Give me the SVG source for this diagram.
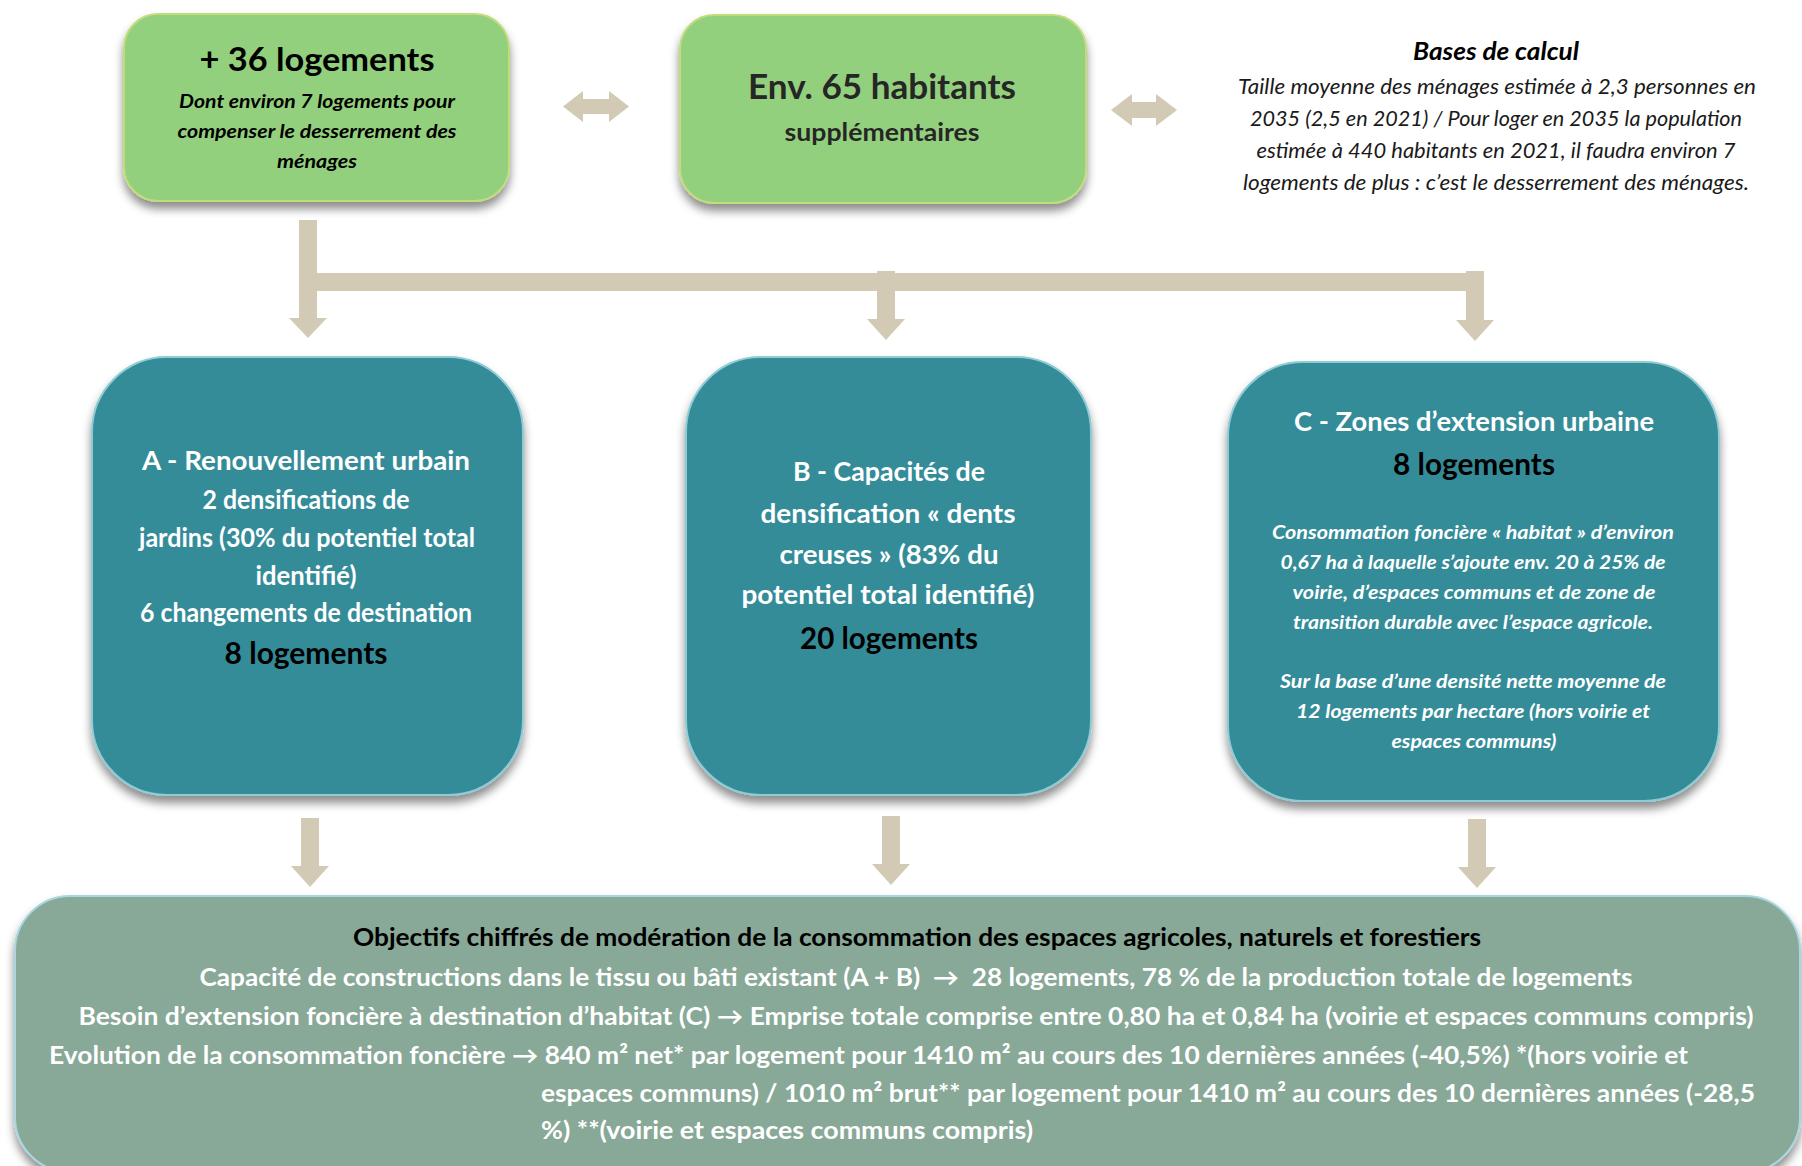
<svg xmlns="http://www.w3.org/2000/svg" width="1802" height="1166" viewBox="0 0 1802 1166">
<defs>
<filter id="sh" x="-10%" y="-10%" width="120%" height="130%">
<feDropShadow dx="0" dy="7" stdDeviation="5" flood-color="#000" flood-opacity="0.45"/>
</filter>
</defs>
<style>
.green{fill:#93d07e;stroke:#c2dc7c;stroke-width:2}
.teal{fill:#348c99;stroke:#8fcbd5;stroke-width:2}
.bottom{fill:#88a898;stroke:#a9d6df;stroke-width:2}
.arr{fill:#d3cab6}
text{font-family:Lato,"Open Sans","Liberation Sans",sans-serif;text-anchor:middle;font-weight:700}
.i{font-style:italic}
.r{font-weight:400;fill:#1a1a1a}
.w{fill:#ffffff}
.k{fill:#000000}
.d{fill:#262626}
.s{text-anchor:start}
.pre{white-space:pre}
</style>
<rect width="1802" height="1166" fill="#ffffff"/>

<g id="connectors">
<polygon class="arr" points="563,106.5 583,91 583,99 609,99 609,91 629,106.5 609,122 609,114 583,114 583,122"/>
<polygon class="arr" points="1111,110 1132,94 1132,102 1156,102 1156,94 1177,110 1156,126 1156,118 1132,118 1132,126"/>
<rect class="arr" x="299" y="220" width="18" height="100"/>
<polygon class="arr" points="289,318 327,318 308,338"/>
<rect class="arr" x="317" y="273" width="1150" height="18"/>
<rect class="arr" x="877" y="271" width="18" height="50"/>
<polygon class="arr" points="867,319 905,319 886,340"/>
<rect class="arr" x="1466" y="271" width="18" height="51"/>
<polygon class="arr" points="1456,320 1494,320 1475,341"/>
<rect class="arr" x="301" y="818" width="18" height="50"/>
<polygon class="arr" points="291,866 329,866 310,887"/>
<rect class="arr" x="882" y="816" width="18" height="50"/>
<polygon class="arr" points="872,864 910,864 891,885"/>
<rect class="arr" x="1468" y="819" width="18" height="50"/>
<polygon class="arr" points="1458,867 1496,867 1477,888"/>
</g>

<g id="logements">
<rect class="green" x="124" y="14" width="385" height="187" rx="34" filter="url(#sh)"/>
<text class="k" x="317" y="71" font-size="33" textLength="235" lengthAdjust="spacingAndGlyphs">+ 36 logements</text>
<text class="k i" x="317" y="108" font-size="19.5" textLength="276" lengthAdjust="spacingAndGlyphs">Dont environ 7 logements pour</text>
<text class="k i" x="317" y="138" font-size="19.5" textLength="279" lengthAdjust="spacingAndGlyphs">compenser le desserrement des</text>
<text class="k i" x="317" y="168" font-size="19.5" textLength="80" lengthAdjust="spacingAndGlyphs">ménages</text>
</g>

<g id="habitants">
<rect class="green" x="680" y="15" width="406" height="188" rx="34" filter="url(#sh)"/>
<text class="d" x="882" y="99" font-size="34" textLength="268" lengthAdjust="spacingAndGlyphs">Env. 65 habitants</text>
<text class="d" x="882" y="141" font-size="24" textLength="195" lengthAdjust="spacingAndGlyphs">supplémentaires</text>
</g>

<g id="bases">
<text class="k i" x="1496" y="60" font-size="24" textLength="166" lengthAdjust="spacingAndGlyphs">Bases de calcul</text>
<text class="i r" x="1497" y="94" font-size="20.5" textLength="518" lengthAdjust="spacingAndGlyphs">Taille moyenne des ménages estimée à 2,3 personnes en</text>
<text class="i r" x="1496" y="126" font-size="20.5" textLength="492" lengthAdjust="spacingAndGlyphs">2035 (2,5 en 2021) / Pour loger en 2035 la population</text>
<text class="i r" x="1496" y="158" font-size="20.5" textLength="479" lengthAdjust="spacingAndGlyphs">estimée à 440 habitants en 2021, il faudra environ 7</text>
<text class="i r" x="1496" y="190" font-size="20.5" textLength="506" lengthAdjust="spacingAndGlyphs">logements de plus : c’est le desserrement des ménages.</text>
</g>

<g id="nodeA">
<rect class="teal" x="92" y="357" width="431" height="438" rx="75" filter="url(#sh)"/>
<text class="w" x="306" y="470" font-size="26" textLength="328" lengthAdjust="spacingAndGlyphs">A - Renouvellement urbain</text>
<text class="w" x="306" y="509" font-size="26" textLength="207" lengthAdjust="spacingAndGlyphs">2 densifications de</text>
<text class="w" x="307" y="547" font-size="26" textLength="336" lengthAdjust="spacingAndGlyphs">jardins (30% du potentiel total</text>
<text class="w" x="306" y="585" font-size="26" textLength="101" lengthAdjust="spacingAndGlyphs">identifié)</text>
<text class="w" x="306" y="622" font-size="26" textLength="332" lengthAdjust="spacingAndGlyphs">6 changements de destination</text>
<text class="k" x="306" y="664" font-size="31" textLength="163" lengthAdjust="spacingAndGlyphs">8 logements</text>
</g>

<g id="nodeB">
<rect class="teal" x="686" y="357" width="405" height="438" rx="75" filter="url(#sh)"/>
<text class="w" x="889" y="481" font-size="27" textLength="192" lengthAdjust="spacingAndGlyphs">B - Capacités de</text>
<text class="w" x="888" y="523" font-size="27" textLength="255" lengthAdjust="spacingAndGlyphs">densification « dents</text>
<text class="w" x="889" y="564" font-size="27" textLength="219" lengthAdjust="spacingAndGlyphs">creuses » (83% du</text>
<text class="w" x="888" y="604" font-size="27" textLength="293" lengthAdjust="spacingAndGlyphs">potentiel total identifié)</text>
<text class="k" x="889" y="649" font-size="31" textLength="178" lengthAdjust="spacingAndGlyphs">20 logements</text>
</g>

<g id="nodeC">
<rect class="teal" x="1228" y="362" width="491" height="439" rx="75" filter="url(#sh)"/>
<text class="w" x="1474" y="431" font-size="26" textLength="360" lengthAdjust="spacingAndGlyphs">C - Zones d’extension urbaine</text>
<text class="k" x="1474" y="475" font-size="31" textLength="162" lengthAdjust="spacingAndGlyphs">8 logements</text>
<text class="w i" x="1473" y="539" font-size="19" textLength="402" lengthAdjust="spacingAndGlyphs">Consommation foncière « habitat » d’environ</text>
<text class="w i" x="1473" y="569" font-size="19" textLength="385" lengthAdjust="spacingAndGlyphs">0,67 ha à laquelle s’ajoute env. 20 à 25% de</text>
<text class="w i" x="1474" y="599" font-size="19" textLength="363" lengthAdjust="spacingAndGlyphs">voirie, d’espaces communs et de zone de</text>
<text class="w i" x="1473" y="629" font-size="19" textLength="360" lengthAdjust="spacingAndGlyphs">transition durable avec l’espace agricole.</text>
<text class="w i" x="1473" y="688" font-size="19" textLength="386" lengthAdjust="spacingAndGlyphs">Sur la base d’une densité nette moyenne de</text>
<text class="w i" x="1473" y="718" font-size="19" textLength="354" lengthAdjust="spacingAndGlyphs">12 logements par hectare (hors voirie et</text>
<text class="w i" x="1474" y="748" font-size="19" textLength="165" lengthAdjust="spacingAndGlyphs">espaces communs)</text>
</g>

<g id="objectifs">
<rect class="bottom" x="15" y="896" width="1785" height="276" rx="55" filter="url(#sh)"/>
<text class="k" x="917" y="946" font-size="24" textLength="1128" lengthAdjust="spacingAndGlyphs">Objectifs chiffrés de modération de la consommation des espaces agricoles, naturels et forestiers</text>
<text class="w pre" x="916" y="986" font-size="24" textLength="1433" lengthAdjust="spacingAndGlyphs">Capacité de constructions dans le tissu ou bâti existant (A + B)  →  28 logements, 78 % de la production totale de logements</text>
<text class="w" x="916" y="1025" font-size="24" textLength="1675" lengthAdjust="spacingAndGlyphs">Besoin d’extension foncière à destination d’habitat (C) → Emprise totale comprise entre 0,80 ha et 0,84 ha (voirie et espaces communs compris)</text>
<text class="w s" x="49" y="1064" font-size="24" textLength="1639" lengthAdjust="spacingAndGlyphs">Evolution de la consommation foncière → 840 m² net* par logement pour 1410 m² au cours des 10 dernières années (-40,5%) *(hors voirie et</text>
<text class="w s" x="541" y="1102" font-size="24" textLength="1214" lengthAdjust="spacingAndGlyphs">espaces communs) / 1010 m² brut** par logement pour 1410 m² au cours des 10 dernières années (-28,5</text>
<text class="w s" x="541" y="1139" font-size="24" textLength="492" lengthAdjust="spacingAndGlyphs">%) **(voirie et espaces communs compris)</text>
</g>
</svg>
